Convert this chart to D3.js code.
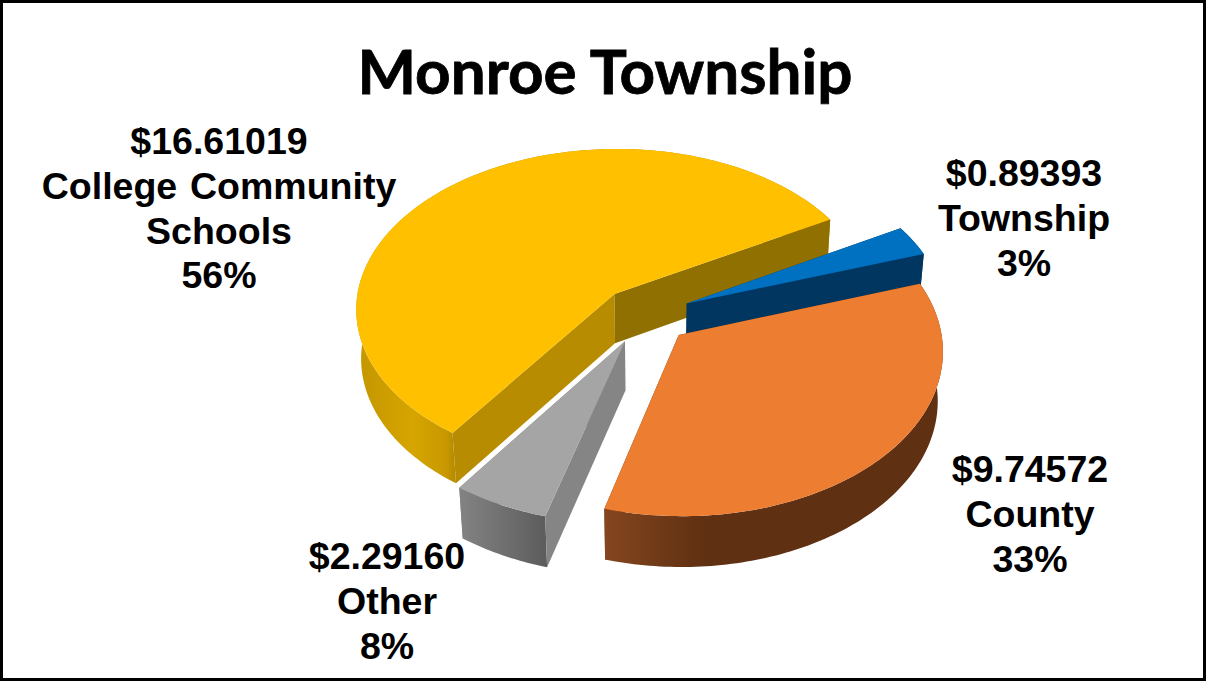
<!DOCTYPE html>
<html>
<head>
<meta charset="utf-8">
<script src="https://cdn.jsdelivr.net/npm/d3@7"></script>
<style>
  body { margin: 0; background: #fff; }
  svg { display: block; }
  text { fill: #000; white-space: pre; }
</style>
</head>
<body>
<div class="container"></div>
<script>
const title = 'Monroe Township';
const categories = [['Township'], ['County'], ['Other'], ['College  Community', 'Schools']];
const values = [0.89393, 9.74572, 2.2916, 16.61019];

const width = 1206;
const height = 681;

// camera for the tilted pie
const radius = 260;
const depth = 64;
const explode = 46;
const tilt = (38.4 * Math.PI) / 180;
const camera = 2300;
const cx = 645;
const cy = 315;
const firstAngle = (57 * Math.PI) / 180;

const topColors = ['#0070C0', '#ED7D31', '#A5A5A5', '#FFC000'];
const wallColors = ['#003660', '#5F3012', '#858585', '#8F7000'];
const frontWall = '#B88C00';

const svg = d3
  .select('.container')
  .append('svg')
  .attr('width', width)
  .attr('height', height);

svg
  .append('rect')
  .attr('x', 1.5)
  .attr('y', 1.5)
  .attr('width', width - 3)
  .attr('height', height - 3)
  .attr('fill', '#fff')
  .attr('stroke', '#000')
  .attr('stroke-width', 3);

function project(x, y, z) {
  let d = camera - (y * Math.cos(tilt) + z * Math.sin(tilt));
  let sy = y * Math.sin(tilt) - z * Math.cos(tilt);
  return [cx + (camera * x) / d, cy + (camera * sy) / d];
}

// outer wall gradients, stops run left to right over the wall
const defs = svg.append('defs');
const gradients = [
  [[0, '#003660'], [1, '#003660']],
  [[0, '#85451F'], [0.2, '#6B3716'], [0.3, '#5F3012'], [1, '#5F3012']],
  [[0, '#838383'], [1, '#5C5C5C']],
  [[0, '#C49600'], [0.12, '#D6A500'], [0.19, '#C89800'], [0.205, '#B88C00'], [1, '#B88C00']],
];
gradients.forEach((stops, i) => {
  let g = defs.append('linearGradient').attr('id', 'wall' + i);
  stops.forEach((s) => {
    g.append('stop').attr('offset', s[0]).attr('stop-color', s[1]);
  });
});

const pie = d3
  .pie()
  .sort(null)
  .startAngle(firstAngle)
  .endAngle(firstAngle + 2 * Math.PI);
const arcs = pie(values);
const line = d3.line();

// the 3d view bends the angles a bit, so the drawn edges are not the true ones
const bend = d3
  .scaleLinear()
  .domain([57, 68, 187, 215, 417].map((d) => (d * Math.PI) / 180))
  .range([60.5, 71.5, 196, 215.5, 420.5].map((d) => (d * Math.PI) / 180));

// angle is clockwise from the back of the pie
function slicePoints(a) {
  let mid = (bend(a.startAngle) + bend(a.endAngle)) / 2;
  let ox = explode * Math.sin(mid);
  let oy = -explode * Math.cos(mid);
  let angles = d3.range(a.startAngle, a.endAngle, Math.PI / 180).concat(a.endAngle).map(bend);
  let rim = (z) =>
    angles.map((t) => project(ox + radius * Math.sin(t), oy - radius * Math.cos(t), z));
  return {
    apexTop: project(ox, oy, 0),
    apexBottom: project(ox, oy, -depth),
    rimTop: rim(0),
    rimBottom: rim(-depth),
  };
}

// back slice first so the nearer ones cover it
[3, 0, 1, 2].forEach((i) => {
  let p = slicePoints(arcs[i]);
  let g = svg.append('g').attr('class', 'slice');
  let n = p.rimTop.length - 1;

  let endWall = () =>
    g
      .append('path')
      .attr('d', line([p.apexTop, p.rimTop[n], p.rimBottom[n], p.apexBottom]) + 'Z')
      .attr('fill', wallColors[i]);

  // only the big slice shows its end wall in front of the rim
  if (i !== 3) endWall();
  g.append('path')
    .attr('d', line(p.rimTop.concat(p.rimBottom.slice().reverse())) + 'Z')
    .attr('fill', 'url(#wall' + i + ')');
  g.append('path')
    .attr('d', line([p.apexTop, p.rimTop[0], p.rimBottom[0], p.apexBottom]) + 'Z')
    .attr('fill', i === 3 ? frontWall : wallColors[i]);
  if (i === 3) endWall();
  g.append('path')
    .attr('d', line([p.apexTop].concat(p.rimTop)) + 'Z')
    .attr('fill', topColors[i]);
});

svg
  .append('text')
  .attr('x', 605)
  .attr('y', 94)
  .attr('text-anchor', 'middle')
  .style('font-family', 'Lato')
  .style('font-weight', 700)
  .style('font-size', '62px')
  .style('stroke', '#000')
  .style('stroke-width', 0.8)
  .text(title);

const total = d3.sum(values);
const labelSpots = [
  [1024, 186],
  [1030, 482],
  [387, 569],
  [219, 154],
];

categories.forEach((cat, i) => {
  let lines = ['$' + d3.format('.5f')(values[i])]
    .concat(cat)
    .concat(d3.format('.0%')(values[i] / total));
  svg
    .append('g')
    .attr('class', 'label')
    .selectAll('text')
    .data(lines)
    .enter()
    .append('text')
    .attr('x', labelSpots[i][0])
    .attr('y', (d, j) => labelSpots[i][1] + j * 44.8)
    .attr('text-anchor', 'middle')
    .style('font-family', 'Liberation Sans')
    .style('font-weight', 700)
    .style('font-size', '37.5px')
    .style('word-spacing', '-4px')
    .text((d) => d);
});
</script>
</body>
</html>
